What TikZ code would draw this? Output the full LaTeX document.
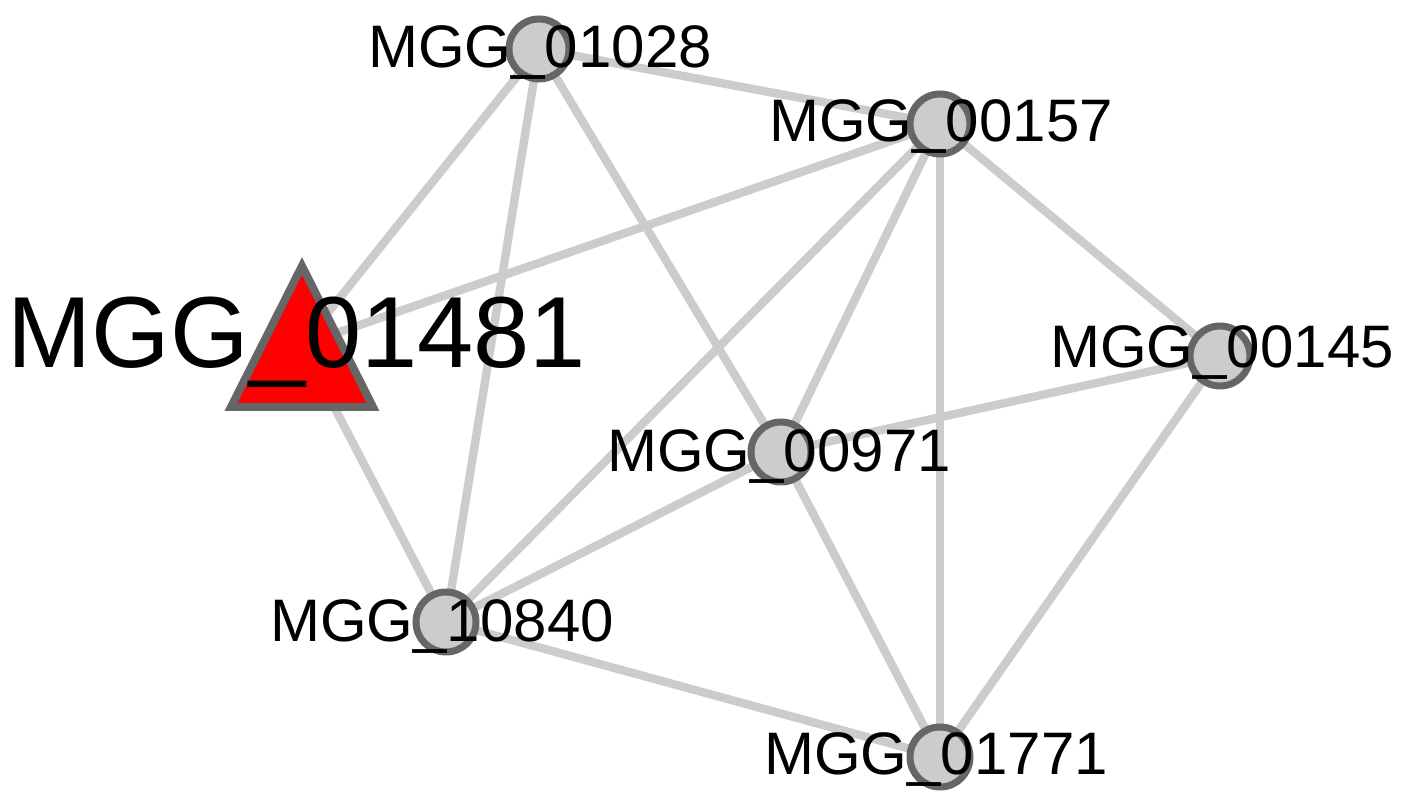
\documentclass[tikz,border=0pt]{standalone}
\usepackage{fontspec}
\setmainfont{Liberation Sans}
\definecolor{edgegray}{HTML}{CCCCCC}
\definecolor{nodefill}{HTML}{CCCCCC}
\definecolor{nodeborder}{HTML}{666666}
\begin{document}
\begin{tikzpicture}[x=0.5pt,y=-0.5pt,
  edge/.style={draw=edgegray,line width=4.2pt},
  gene/.style={circle,fill=nodefill,draw=nodeborder,line width=3.5pt,minimum size=30pt,inner sep=0pt},
  lbl/.style={anchor=base,inner sep=0pt,font=\fontsize{30}{36}\selectfont},
  biglbl/.style={anchor=base,inner sep=0pt,font=\fontsize{50.5}{60}\selectfont}]
\useasboundingbox (0,0) rectangle (1405,795);
% node positions
\coordinate (c01028) at (539,49);
\coordinate (c00157) at (940,124);
\coordinate (c00145) at (1220,356);
\coordinate (c00971) at (781,452);
\coordinate (c10840) at (446,622);
\coordinate (c01771) at (940,757);
\coordinate (c01481) at (302,345);
% edges
\draw[edge] (c01028) -- (c01481);
\draw[edge] (c01028) -- (c10840);
\draw[edge] (c01028) -- (c00971);
\draw[edge] (c01028) -- (c00157);
\draw[edge] (c00157) -- (c01481);
\draw[edge] (c00157) -- (c10840);
\draw[edge] (c00157) -- (c00971);
\draw[edge] (c00157) -- (c01771);
\draw[edge] (c00157) -- (c00145);
\draw[edge] (c00145) -- (c00971);
\draw[edge] (c00145) -- (c01771);
\draw[edge] (c00971) -- (c10840);
\draw[edge] (c00971) -- (c01771);
\draw[edge] (c10840) -- (c01481);
\draw[edge] (c10840) -- (c01771);
% nodes
\node[gene] (n01028) at (c01028) {};
\node[gene] (n00157) at (c00157) {};
\node[gene] (n00145) at (c00145) {};
\node[gene] (n00971) at (c00971) {};
\node[gene] (n10840) at (c10840) {};
\node[gene] (n01771) at (c01771) {};
\draw[fill=red,draw=nodeborder,line width=4pt,line join=miter] (302,266) -- (373,407) -- (231,407) -- cycle;
% labels
\node[lbl] (l01028) at (540,68) {MGG\_01028};
\node[lbl] (l00157) at (941,142) {MGG\_00157};
\node[lbl] (l00145) at (1222,368) {MGG\_00145};
\node[lbl] (l00971) at (779,472) {MGG\_00971};
\node[lbl] (l10840) at (442,642) {MGG\_10840};
\node[lbl] (l01771) at (936,775) {MGG\_01771};
\node[biglbl] (l01481) at (297,368) {MGG\_01481};
\end{tikzpicture}
\end{document}
